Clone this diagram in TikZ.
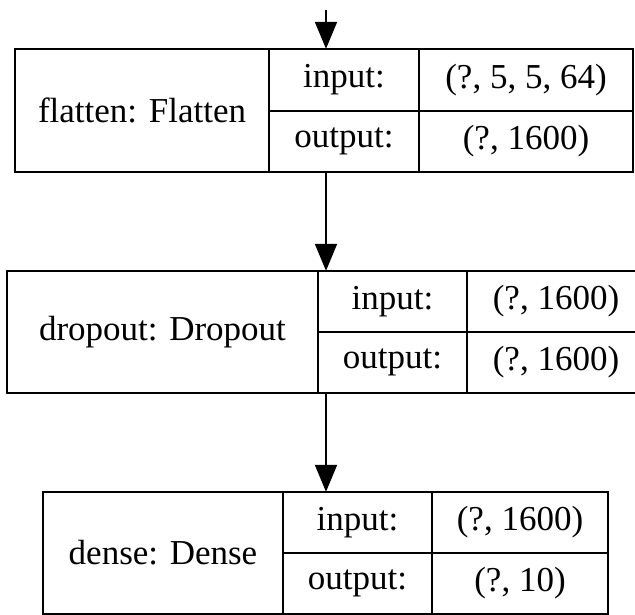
\documentclass[tikz,border=0pt]{standalone}
\usepackage{fontspec}
\setmainfont{Liberation Serif}
\usetikzlibrary{arrows.meta}
\tikzset{
  cell/.style={draw, line width=2pt, inner sep=0pt, font=\fontsize{35}{40}\selectfont},
  hull/.style={inner sep=0pt},
  flow/.style={line width=2pt, -{Triangle[length=27pt,width=22pt]}},
}
\begin{document}
\begin{tikzpicture}[x=1pt, y=-1pt]
  \useasboundingbox (0,0) rectangle (635,614);
  \clip (0,0) rectangle (635,614);

  % layer: flatten
  \node[hull, minimum width=618pt, minimum height=123pt] (flatten) at (324,110.5) {};
  \node[cell, minimum width=254pt, minimum height=123pt] (flatten-t) at (142,110.5) {flatten: Flatten};
  \node[cell, minimum width=150pt, minimum height=61.5pt] (flatten-il) at (344,79.75) {input:};
  \node[cell, minimum width=214pt, minimum height=61.5pt] (flatten-iv) at (526,79.75) {(?, 5, 5, 64)};
  \node[cell, minimum width=150pt, minimum height=61.5pt] (flatten-ol) at (344,141.25) {output:};
  \node[cell, minimum width=214pt, minimum height=61.5pt] (flatten-ov) at (526,141.25) {(?, 1600)};

  % layer: dropout
  \node[hull, minimum width=638pt, minimum height=122pt] (dropout) at (326,332) {};
  \node[cell, minimum width=311pt, minimum height=122pt] (dropout-t) at (162.5,332) {dropout: Dropout};
  \node[cell, minimum width=149pt, minimum height=61pt] (dropout-il) at (392.5,301.5) {input:};
  \node[cell, minimum width=178pt, minimum height=61pt] (dropout-iv) at (556,301.5) {(?, 1600)};
  \node[cell, minimum width=149pt, minimum height=61pt] (dropout-ol) at (392.5,362.5) {output:};
  \node[cell, minimum width=178pt, minimum height=61pt] (dropout-ov) at (556,362.5) {(?, 1600)};

  % layer: dense
  \node[hull, minimum width=565pt, minimum height=122pt] (dense) at (325.5,553) {};
  \node[cell, minimum width=240pt, minimum height=122pt] (dense-t) at (163,553) {dense: Dense};
  \node[cell, minimum width=149pt, minimum height=61pt] (dense-il) at (357.5,522.5) {input:};
  \node[cell, minimum width=176pt, minimum height=61pt] (dense-iv) at (520,522.5) {(?, 1600)};
  \node[cell, minimum width=149pt, minimum height=61pt] (dense-ol) at (357.5,583.5) {output:};
  \node[cell, minimum width=176pt, minimum height=61pt] (dense-ov) at (520,583.5) {(?, 10)};

  % data flow
  \coordinate (src) at (326,10);
  \draw[flow] (src) -- (flatten.north -| src);
  \draw[flow] (flatten.south -| src) -- (dropout.north -| src);
  \draw[flow] (dropout.south -| src) -- (dense.north -| src);
\end{tikzpicture}
\end{document}
